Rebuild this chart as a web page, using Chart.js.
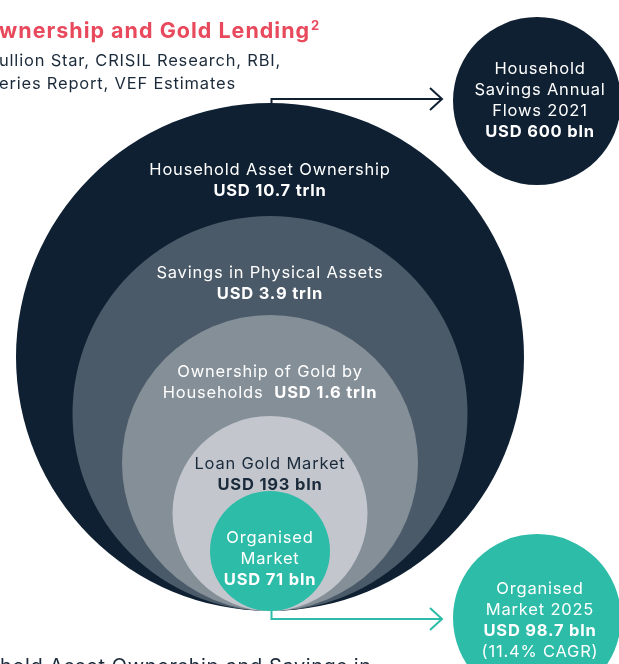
<!DOCTYPE html>
<html>
<head>
<meta charset="utf-8">
<script src="https://cdn.jsdelivr.net/npm/chart.js@4"></script>
<style>
  body { margin: 0; background: #ffffff; overflow: hidden; }
  .chart-box { position: relative; width: 619px; height: 664px; }
</style>
</head>
<body>
<div class="chart-box"><canvas id="gold"></canvas></div>
<script>
// Data (values in USD bln)
const nestedLabels = [
    ['Household Asset Ownership'],
    ['Savings in Physical Assets'],
    ['Ownership of Gold by', 'Households'],
    ['Loan Gold Market'],
    ['Organised', 'Market']
];
const nestedValues = [10700, 3900, 1600, 193, 71];

const sideLabels = [
    ['Household', 'Savings Annual', 'Flows 2021'],
    ['Organised', 'Market 2025']
];
const sideValues = [600, 98.7];
const sideNotes = ['', '(11.4% CAGR)'];

const titleText = 'wnership and Gold Lending';
const sourceLines = ['ullion Star, CRISIL Research, RBI,', 'eries Report, VEF Estimates'];
const footerText = 'hold Asset Ownership and Savings in';

// Layout (scale units == canvas px)
const nestedGeom = [
    { x: 270, y: 357, r: 254, text: 175 },
    { x: 270, y: 413.5, r: 197.5, text: 278 },
    { x: 270, y: 463, r: 148, text: 377, inline: true },
    { x: 270, y: 513.5, r: 97.5, text: 469 },
    { x: 270, y: 551, r: 60, text: 543 }
];
const sideGeom = [
    { x: 537, y: 101, r: 84, text: 74 },
    { x: 537, y: 618, r: 84, text: 594 }
];

const NAVY = '#0f2032';
const TEAL = '#2cbca8';
const RED = '#e9495c';
const nestedColors = [NAVY, '#4a5a68', '#858f98', '#c3c7cd', TEAL];
const nestedText = ['#ffffff', '#ffffff', '#ffffff', '#1a2a3b', '#ffffff'];
const sideColors = [NAVY, TEAL];
const FONT = 'Inter, "Noto Sans", sans-serif';
const REG = '400 16.5px ' + FONT;
const BOLD = '700 16.5px ' + FONT;
const SPACING = '0.8px';

function fmtUsd(v) {
    if (v >= 1000) return 'USD ' + (v / 1000).toFixed(1) + ' trln';
    return 'USD ' + v + ' bln';
}

// Draws labels, arrows and header text on top of the bubbles
const annotations = {
    id: 'annotations',
    afterDatasetsDraw(chart) {
        const ctx = chart.ctx;
        const sx = chart.scales.x, sy = chart.scales.y;
        const px = v => sx.getPixelForValue(v);
        const py = v => sy.getPixelForValue(v);
        const LH = 21;

        ctx.save();
        ctx.textBaseline = 'alphabetic';

        // arrows
        const topC = nestedGeom[0];
        const arrow = (x0, y0, y1, x1, color) => {
            ctx.strokeStyle = color;
            ctx.lineWidth = 2;
            ctx.lineJoin = 'miter';
            ctx.beginPath();
            ctx.moveTo(px(x0), py(y0));
            ctx.lineTo(px(x0), py(y1));
            ctx.lineTo(px(x1), py(y1));
            ctx.stroke();
            ctx.beginPath();
            ctx.moveTo(px(x1 - 12), py(y1 - 11));
            ctx.lineTo(px(x1), py(y1));
            ctx.lineTo(px(x1 - 12), py(y1 + 11));
            ctx.stroke();
        };
        arrow(topC.x + 1.5, topC.y - topC.r, 99, 442, NAVY);
        arrow(topC.x + 1.5, topC.y + topC.r, 619, 442, TEAL);

        ctx.letterSpacing = SPACING;

        // nested circle labels
        ctx.textAlign = 'center';
        nestedLabels.forEach((lines, i) => {
            const g = nestedGeom[i];
            ctx.fillStyle = nestedText[i];
            let y = g.text;
            lines.forEach((line, j) => {
                const last = j === lines.length - 1;
                if (last && g.inline) {
                    ctx.font = BOLD;
                    const b = fmtUsd(nestedValues[i]);
                    const wb = ctx.measureText(b).width;
                    ctx.font = REG;
                    const a = line + '  ';
                    const wa = ctx.measureText(a).width;
                    const left = px(g.x) - (wa + wb) / 2;
                    ctx.textAlign = 'left';
                    ctx.fillText(a, left, py(y));
                    ctx.font = BOLD;
                    ctx.fillText(b, left + wa, py(y));
                    ctx.textAlign = 'center';
                } else {
                    ctx.font = REG;
                    ctx.fillText(line, px(g.x), py(y));
                }
                y += LH;
            });
            if (!g.inline) {
                ctx.font = BOLD;
                ctx.fillText(fmtUsd(nestedValues[i]), px(g.x), py(y));
            }
        });

        // side circle labels
        sideLabels.forEach((lines, i) => {
            const g = sideGeom[i];
            ctx.fillStyle = '#ffffff';
            let y = g.text;
            ctx.font = REG;
            lines.forEach(line => { ctx.fillText(line, px(g.x + 3), py(y)); y += LH; });
            ctx.font = BOLD;
            ctx.fillText(fmtUsd(sideValues[i]), px(g.x + 3), py(y));
            y += LH;
            if (sideNotes[i]) {
                ctx.font = REG;
                ctx.fillText(sideNotes[i], px(g.x + 3), py(y));
            }
        });

        // header and footer
        ctx.textAlign = 'left';
        ctx.fillStyle = RED;
        ctx.letterSpacing = '1px';
        ctx.font = '700 21.5px ' + FONT;
        ctx.fillText(titleText, -1, 38);
        const tw = ctx.measureText(titleText).width;
        ctx.font = '700 13px ' + FONT;
        ctx.letterSpacing = '0px';
        ctx.fillText('2', tw, 30);

        ctx.fillStyle = '#1b2a3a';
        ctx.letterSpacing = SPACING;
        ctx.font = REG;
        ctx.fillText(sourceLines[0], -1, 66);
        ctx.fillText(sourceLines[1], -1, 89);

        ctx.letterSpacing = '0.6px';
        ctx.font = '400 20px ' + FONT;
        ctx.fillText(footerText, 0, 673);
        ctx.restore();
    }
};

function initializeChart() {
    const canvas = document.getElementById('gold');
    new Chart(canvas.getContext('2d'), {
        type: 'bubble',
        data: {
            datasets: [{
                label: 'Nested',
                data: nestedGeom.map(g => ({ x: g.x, y: g.y, r: g.r })),
                backgroundColor: nestedColors,
                borderWidth: 0,
                clip: false
            }, {
                label: 'Side',
                data: sideGeom.map(g => ({ x: g.x, y: g.y, r: g.r })),
                backgroundColor: sideColors,
                borderWidth: 0,
                clip: false
            }]
        },
        options: {
            responsive: true,
            maintainAspectRatio: false,
            animation: false,
            events: [],
            layout: { padding: 0, autoPadding: false },
            plugins: {
                legend: { display: false },
                tooltip: { enabled: false }
            },
            scales: {
                x: { type: 'linear', min: 0, max: 619, display: false },
                y: { type: 'linear', min: 0, max: 664, reverse: true, display: false }
            }
        },
        plugins: [annotations]
    });
}

document.addEventListener('DOMContentLoaded', initializeChart);
</script>
</body>
</html>
